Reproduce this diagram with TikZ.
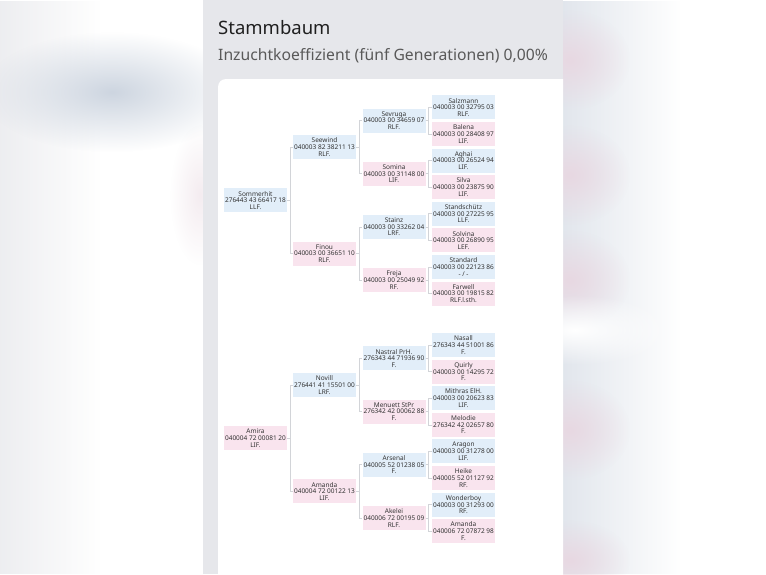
\documentclass[tikz,border=0pt]{standalone}
\usepackage{fontspec}
\setmainfont{Noto Sans}
\usetikzlibrary{positioning,fadings}

\definecolor{panelgray}{HTML}{E6E7EB}
\definecolor{hengst}{HTML}{E2EEF9}
\definecolor{stute}{HTML}{F9E4EE}
\definecolor{linkgray}{HTML}{D2D4D8}
\definecolor{txtgray}{HTML}{333333}
\definecolor{blurblue}{HTML}{CDD5E0}
\definecolor{blurpink}{HTML}{E8D8E2}

\tikzfading[name=softblob, inner color=transparent!0, outer color=transparent!100]
\tikzfading[name=softedge, left color=transparent!0, right color=transparent!100]

\tikzset{
  horse/.style={minimum width=63pt, minimum height=24pt, inner sep=0pt,
    align=center, text=txtgray, font=\fontsize{6.5}{6.7}\selectfont},
  mbox/.style={horse, fill=hengst},
  fbox/.style={horse, fill=stute},
  link/.style={draw=linkgray, line width=0.5pt},
  blur/.style={path fading=softblob},
  side/.style={path fading=softedge}
}

\begin{document}
\begin{tikzpicture}[x=1pt,y=-1pt]
\useasboundingbox (0,0) rectangle (766,574);
% blurred surroundings
\fill[white] (0,0) rectangle (766,574);
\fill[panelgray, side] (-40,0) rectangle (100,574);
\fill[blurblue, blur] (112,92) ellipse (130 and 60);
\fill[blurpink!50!white, blur] (200,195) ellipse (30 and 70);
\fill[blurblue!80!white, side] (520,0) rectangle (680,574);
\fill[blurpink, blur] (570,60) ellipse (60 and 50);
\fill[blurpink, blur] (570,175) ellipse (60 and 50);
\fill[blurpink, blur] (570,280) ellipse (60 and 50);
\fill[white, blur] (575,330) ellipse (100 and 35);
\fill[blurpink, blur] (570,430) ellipse (60 and 50);
\fill[blurpink, blur] (570,560) ellipse (60 and 40);

% panel and card
\fill[panelgray] (203,0) rectangle (563,574);
\begin{scope}
  \clip (0,0) rectangle (563,574);
  \fill[white, rounded corners=8pt] (218,79) rectangle (600,620);
\end{scope}

\node[anchor=base west, inner sep=0pt, text=black!88, font=\fontsize{18.5}{20}\selectfont] (title) at (218,34.5) {Stammbaum};
\node[anchor=base west, inner sep=0pt, text=black!65, font=\fontsize{15.7}{17}\selectfont] (sub) at (218,60.5) {Inzuchtkoeffizient (fünf Generationen) 0,00\%};

% Sommerhit
\node[mbox] (som) at (255.5,200.4) {Sommerhit\\276443 43 66417 18\\LLF.};
\node[mbox] (see) at (324.5,147.0) {Seewind\\040003 82 38211 13\\RLF.};
\node[fbox] (fin) at (324.5,253.5) {Finou\\040003 00 36651 10\\RLF.};
\node[mbox] (sev) at (394,120.6) {Sevruga\\040003 00 34659 07\\RLF.};
\node[fbox] (smn) at (394,173.7) {Somina\\040003 00 31148 00\\LIF.};
\node[mbox] (sta) at (394,226.9) {Stainz\\040003 00 33262 04\\LRF.};
\node[fbox] (fre) at (394,280.1) {Freja\\040003 00 25049 92\\RF.};
\node[mbox] (sal) at (463.5,107.3) {Salzmann\\040003 00 32795 03\\RLF.};
\node[fbox] (bal) at (463.5,133.9) {Balena\\040003 00 28408 97\\LIF.};
\node[mbox] (agh) at (463.5,160.5) {Aghai\\040003 00 26524 94\\LIF.};
\node[fbox] (sil) at (463.5,187.1) {Silva\\040003 00 23875 90\\LIF.};
\node[mbox] (sts) at (463.5,213.7) {Standschütz\\040003 00 27225 95\\LLF.};
\node[fbox] (sol) at (463.5,240.3) {Solvina\\040003 00 26890 95\\LEF.};
\node[mbox] (std) at (463.5,266.9) {Standard\\040003 00 22123 86\\- / -};
\node[fbox] (far) at (463.5,293.5) {Farwell\\040003 00 19815 82\\RLF.l.sth.};

% Amira
\node[fbox] (ami) at (255.5,438.1) {Amira\\040004 72 00081 20\\LIF.};
\node[mbox] (nov) at (324.5,384.9) {Novill\\276441 41 15501 00\\LRF.};
\node[fbox] (ama) at (324.5,491.3) {Amanda\\040004 72 00122 13\\LIF.};
\node[mbox] (nas) at (394,358.3) {Nastral PrH.\\276343 44 71936 90\\F.};
\node[fbox] (men) at (394,411.5) {Menuett StPr\\276342 42 00062 88\\F.};
\node[mbox] (ars) at (394,464.7) {Arsenal\\040005 52 01238 05\\F.};
\node[fbox] (ake) at (394,517.9) {Akelei\\040006 72 00195 09\\RLF.};
\node[mbox] (nsl) at (463.5,345.0) {Nasall\\276343 44 51001 86\\F.};
\node[fbox] (qui) at (463.5,371.6) {Quirly\\040003 00 14295 72\\F.};
\node[mbox] (mit) at (463.5,398.2) {Mithras ElH.\\040003 00 20623 83\\LIF.};
\node[fbox] (mel) at (463.5,424.8) {Melodie\\276342 42 02657 80\\F.};
\node[mbox] (ara) at (463.5,451.4) {Aragon\\040003 00 31278 00\\LIF.};
\node[fbox] (hei) at (463.5,478.0) {Heike\\040005 52 01127 92\\RF.};
\node[mbox] (won) at (463.5,504.6) {Wonderboy\\040003 00 31293 00\\RF.};
\node[fbox] (amb) at (463.5,531.2) {Amanda\\040006 72 07872 98\\F.};

% connectors
\foreach \kid/\sire/\dam in {som/see/fin, see/sev/smn, fin/sta/fre,
    sev/sal/bal, smn/agh/sil, sta/sts/sol, fre/std/far,
    ami/nov/ama, nov/nas/men, ama/ars/ake,
    nas/nsl/qui, men/mit/mel, ars/ara/hei, ake/won/amb}{
  \draw[link] (\kid.east) -- ++(3,0) |- (\sire.west);
  \draw[link] (\kid.east) -- ++(3,0) |- (\dam.west);
}
\end{tikzpicture}
\end{document}
